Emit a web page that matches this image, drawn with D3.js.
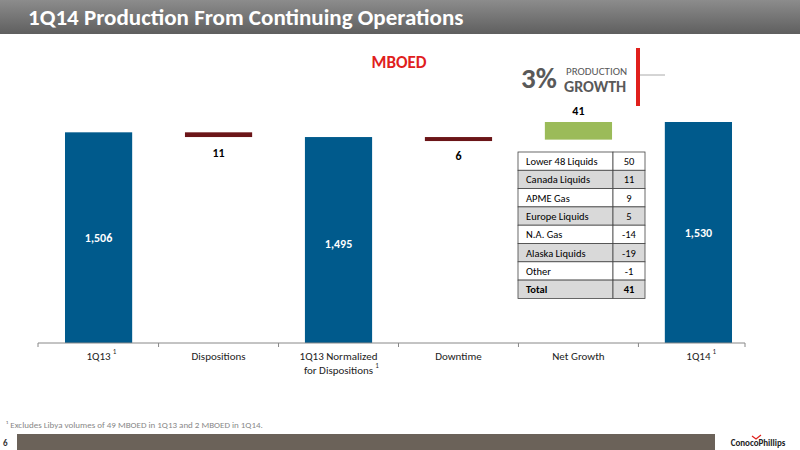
<!DOCTYPE html>
<html lang="en">
<head>
<meta charset="UTF-8">
<title>1Q14 Production</title>
<script src="https://d3js.org/d3.v7.min.js"></script>
<style>
  body { margin: 0; background: #fff; }
  svg text { font-family: Calibri, Carlito, "Open Sans", sans-serif; }
</style>
</head>
<body>
<svg id="main" width="800" height="450"></svg>
<script>
const categories = ['1Q13', 'Dispositions', '1Q13 Normalized|for Dispositions', 'Downtime', 'Net Growth', '1Q14'];
const barStart = [0, 1506, 0, 1495, 1489, 0];
const barEnd = [1506, 1495, 1495, 1489, 1530, 1530];
const barLabels = ['1,506', '11', '1,495', '6', '41', '1,530'];
const barKinds = ['total', 'down', 'total', 'down', 'up', 'total'];
const footMarks = [true, false, true, false, false, true];
const tableNames = ['Lower 48 Liquids', 'Canada Liquids', 'APME Gas', 'Europe Liquids', 'N.A. Gas', 'Alaska Liquids', 'Other', 'Total'];
const tableValues = ['50', '11', '9', '5', '-14', '-19', '-1', '41'];

const svg = d3.select('svg#main');
const colors = {total: '#005a8c', down: '#6b1518', up: '#9bbb59'};

// header
const grad = svg.append('defs').append('linearGradient').attr('id', 'hg').attr('x1', 0).attr('x2', 0).attr('y1', 0).attr('y2', 1);
grad.append('stop').attr('offset', 0).attr('stop-color', '#8c8c8c');
grad.append('stop').attr('offset', 1).attr('stop-color', '#5f5f5f');
svg.append('rect').attr('x', 0).attr('y', 0).attr('width', 800).attr('height', 34).attr('fill', 'url(#hg)');
svg.append('text').attr('x', 28).attr('y', 25).attr('fill', '#fff').attr('font-size', 23).attr('font-weight', 'bold')
  .text('1Q14 Production From Continuing Operations');

svg.append('text').attr('x', 399).attr('y', 68).attr('text-anchor', 'middle').attr('fill', '#e0201c')
  .attr('font-size', 17).attr('font-weight', 'bold').text('MBOED');

// 3% badge
svg.append('text').attr('x', 521).attr('y', 88).attr('fill', '#595959').attr('font-size', 29).attr('font-weight', 'bold').text('3%');
svg.append('text').attr('x', 566).attr('y', 75).attr('fill', '#595959').attr('font-size', 11).text('PRODUCTION');
svg.append('text').attr('x', 564).attr('y', 92).attr('fill', '#595959').attr('font-size', 16).attr('font-weight', 'bold').text('GROWTH');
svg.append('rect').attr('x', 636).attr('y', 48).attr('width', 4).attr('height', 58).attr('fill', '#e0201c');
svg.append('line').attr('x1', 640).attr('x2', 665).attr('y1', 75).attr('y2', 75).attr('stroke', '#aaa');

const x = d3.scaleBand().domain(categories).range([38, 759]).paddingInner(0.44).paddingOuter(0.225);
const y = d3.scaleLinear().domain([1016, 1530]).range([343, 122]);
const yb = v => v === 0 ? 343 : y(v);

const g = svg.append('g');
categories.forEach((c, i) => {
  const top = Math.min(yb(barStart[i]), yb(barEnd[i]));
  const bot = Math.max(yb(barStart[i]), yb(barEnd[i]));
  const kind = barKinds[i];
  g.append('rect').attr('x', x(c)).attr('y', top).attr('width', x.bandwidth()).attr('height', Math.max(bot - top, 4))
    .attr('fill', colors[kind]);
  const cx = x(c) + x.bandwidth() / 2;
  let ly, fill;
  if (kind === 'total') { ly = (top + bot) / 2 + (i === 2 ? 8 : 4); fill = '#fff'; }
  else if (kind === 'down') { ly = bot + 20; fill = '#000'; }
  else { ly = top - 7; fill = '#000'; }
  g.append('text').attr('x', cx).attr('y', ly).attr('text-anchor', 'middle').attr('font-size', 12)
    .attr('font-weight', 'bold').attr('fill', fill).text(barLabels[i]);
});

// axis
const ax = svg.append('g').attr('transform', 'translate(0,343)');
ax.append('line').attr('x1', 38).attr('x2', 745).attr('stroke', '#888');
const edges = categories.map(c => x(c) - x.step() * x.paddingInner() / 2).concat([745]);
edges[0] = 38;
edges.forEach(e => ax.append('line').attr('x1', e).attr('x2', e).attr('y1', 0).attr('y2', 4).attr('stroke', '#888'));
categories.forEach((c, i) => {
  const lines = c.split('|');
  const cx = x(c) + x.bandwidth() / 2;
  lines.forEach((l, j) => {
    const t = svg.append('text').attr('x', cx).attr('y', 360 + j * 14).attr('text-anchor', 'middle')
      .attr('font-size', 11).attr('fill', '#222').text(l);
    if (footMarks[i] && j === lines.length - 1) {
      const w = t.node().getComputedTextLength();
      svg.append('text').attr('x', cx + w / 2 + 2).attr('y', 360 + j * 14 - 6)
        .attr('font-size', 7).attr('fill', '#222').text('1');
    }
  });
});

// table
const tx = 518, tw1 = 95, tw2 = 32, ty = 152, rh = 18.3;
tableNames.forEach((n, i) => {
  const fill = i % 2 ? '#d9d9d9' : '#fff';
  svg.append('rect').attr('x', tx).attr('y', ty + i * rh).attr('width', tw1).attr('height', rh).attr('fill', fill).attr('stroke', '#444').attr('stroke-width', 0.8);
  svg.append('rect').attr('x', tx + tw1).attr('y', ty + i * rh).attr('width', tw2).attr('height', rh).attr('fill', fill).attr('stroke', '#444').attr('stroke-width', 0.8);
  const bold = i === tableNames.length - 1 ? 'bold' : 'normal';
  svg.append('text').attr('x', tx + 8).attr('y', ty + i * rh + 13).attr('font-size', 10.5).attr('font-weight', bold).text(n);
  svg.append('text').attr('x', tx + tw1 + tw2 / 2).attr('y', ty + i * rh + 13).attr('text-anchor', 'middle')
    .attr('font-size', 10.5).attr('font-weight', bold).text(tableValues[i]);
});

// footnote & footer
svg.append('text').attr('x', 6).attr('y', 428).attr('font-size', 9).attr('fill', '#888')
  .text('¹ Excludes Libya volumes of 49 MBOED in 1Q13 and 2 MBOED in 1Q14.');
svg.append('rect').attr('x', 17).attr('y', 434).attr('width', 698).attr('height', 16).attr('fill', '#6b6259');
svg.append('text').attr('x', 3).attr('y', 446).attr('font-size', 9).attr('font-weight', 'bold').attr('fill', '#333').text('6');
svg.append('text').attr('x', 758).attr('y', 446).attr('text-anchor', 'middle').attr('font-size', 9).attr('font-weight', 'bold')
  .attr('fill', '#222').text('ConocoPhillips');
svg.append('path').attr('d', 'M752 436 l4 3 l5 -4').attr('fill', 'none').attr('stroke', '#e0201c').attr('stroke-width', 1.2);
</script>
</body>
</html>
